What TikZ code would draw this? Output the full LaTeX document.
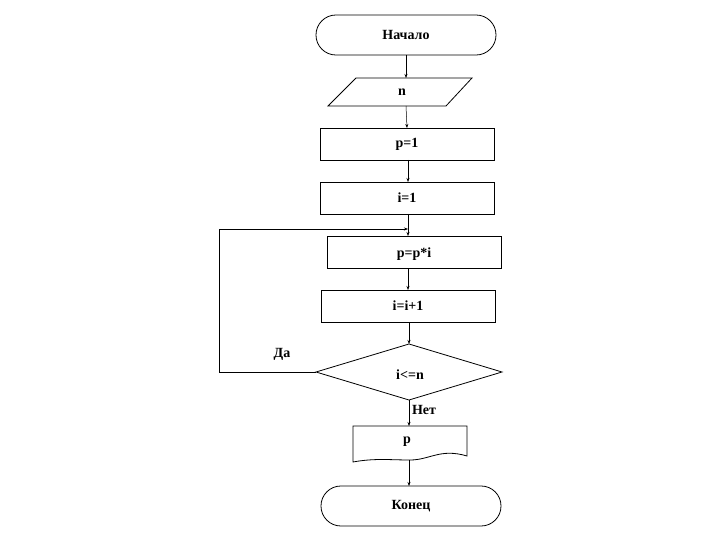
\documentclass[tikz,border=0pt]{standalone}
\usepackage{fontspec}
\setmainfont{Liberation Serif}
\usetikzlibrary{arrows.meta}
\begin{document}
\begin{tikzpicture}[x=1pt,y=-1pt,line width=0.8pt,
  lbl/.style={font=\bfseries\fontsize{14}{16}\selectfont},
  arr/.style={-{Stealth[length=4pt,width=3pt]},line width=0.5pt}]
\useasboundingbox (0,0) rectangle (720,540);
% start
\draw[rounded corners=19.9pt] (316,15) rectangle (496,55);
\node[lbl] (start) at (406,35) {Начало};
\coordinate (startb) at (406,55);
% input
\draw (356,78) -- (472,78) -- (446,106) -- (328,106) -- cycle;
\node[lbl] (inp) at (402,92) {n};
\coordinate (inpt) at (406,78); \coordinate (inpb) at (406,106);
% p=1
\draw (320,128) rectangle (494,160);
\node[lbl] (p1) at (407,144) {p=1};
\coordinate (p1t) at (407,128); \coordinate (p1b) at (408,160);
% i=1
\draw (320,182) rectangle (494,214);
\node[lbl] (i1) at (407,198) {i=1};
\coordinate (i1t) at (408,182); \coordinate (i1b) at (408,214);
% p=p*i
\draw (327,236) rectangle (501,268);
\node[lbl] (pp) at (414,254) {p=p*i};
\coordinate (ppt) at (408,236); \coordinate (ppb) at (408,268);
% i=i+1
\draw (321,290) rectangle (495,322);
\node[lbl] (ii) at (408,306) {i=i+1};
\coordinate (iit) at (408,290); \coordinate (iib) at (409,322);
% diamond
\draw (409,344) -- (502,372) -- (409,400) -- (316,372) -- cycle;
\node[lbl] (cond) at (410,375) {i<=n};
\coordinate (dt) at (409,344); \coordinate (db) at (409,400); \coordinate (dl) at (316,372);
\node[lbl] (yes) at (282,354) {Да};
\node[lbl] (no) at (424,410) {Нет};
% output document
\draw (353,426) -- (467,426) -- (467,456) .. controls (440,448) and (430,460) .. (410,460) .. controls (390,460) and (375,458) .. (353,462) -- cycle;
\node[lbl] (out) at (407,442) {p};
\coordinate (outt) at (409,426); \coordinate (outb) at (409,460);
% end
\draw[rounded corners=19.9pt] (321,486) rectangle (501,526);
\node[lbl] (end) at (411,506) {Конец};
\coordinate (endt) at (409,486);
% connectors
\draw[arr] (startb) -- (inpt);
\draw[arr] (inpb) -- (p1t);
\draw[arr] (p1b) -- (i1t);
\draw[arr] (i1b) -- (ppt);
\draw[arr] (ppb) -- (iit);
\draw[arr] (iib) -- (dt);
\draw[arr] (db) -- (outt);
\draw[arr] (outb) -- (endt);
\coordinate (lp1) at (219,372); \coordinate (lp2) at (219,229); \coordinate (lp3) at (408,229);
\draw[arr] (dl) -- (lp1) -- (lp2) -- (lp3);
\end{tikzpicture}
\end{document}
